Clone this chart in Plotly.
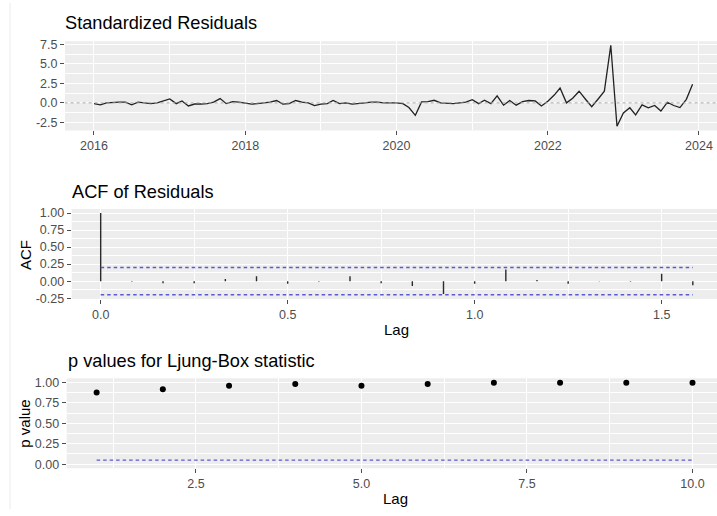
import pandas as pd
import plotly.graph_objects as go

# ---- data -------------------------------------------------------------
months = pd.date_range("2016-01-01", periods=96, freq="MS")

std_resid = [
    -0.10, -0.25, 0.00, 0.10, 0.10, 0.10, -0.25, 0.10, 0.00, -0.10, 0.00, 0.20,   # 2016
    0.50, -0.10, 0.25, -0.40, -0.15, -0.15, -0.10, 0.10, 0.55, -0.10, 0.15, 0.10,  # 2017
    0.00, -0.15, -0.10, 0.00, 0.10, 0.30, -0.15, -0.10, 0.30, 0.10, 0.00, -0.35,   # 2018
    -0.15, -0.10, 0.30, -0.10, 0.00, -0.15, -0.10, 0.00, 0.10, 0.10, 0.00, 0.00,   # 2019
    0.00, -0.10, -0.60, -1.60, 0.13, 0.17, 0.33, 0.00, -0.10, -0.10, 0.00, 0.10,   # 2020
    0.40, -0.10, 0.35, -0.10, 0.90, -0.30, 0.30, -0.30, 0.15, 0.30, 0.25, -0.40,   # 2021
    0.20, 1.00, 1.90, 0.00, 0.60, 1.50, 0.50, -0.50, 0.50, 1.50, 7.40, -3.00,      # 2022
    -1.30, -0.63, -1.55, -0.25, -0.65, -0.34, -1.05, 0.08, -0.34, -0.60, 0.45, 2.40,  # 2023
]

acf_lag_months = list(range(20))
acf_values = [1.00, -0.01, -0.03, -0.03, 0.03, 0.07, -0.04, -0.01, 0.07, -0.03,
              -0.07, -0.19, -0.04, 0.17, 0.015, -0.04, -0.005, -0.01, 0.11, -0.06]
acf_bound = 0.2

lb_lags = [1, 2, 3, 4, 5, 6, 7, 8, 9, 10]
lb_pvalues = [0.877, 0.917, 0.960, 0.980, 0.960, 0.980, 0.996, 0.996, 0.996, 0.996]
lb_level = 0.05

# ---- styling ----------------------------------------------------------
W, H = 717, 516
FONT = "Liberation Sans, Arial, sans-serif"
TICK_COLOR = "#4D4D4D"
PANEL_BG = "#EDEDED"
BLUE = "#5A5AD0"
LINE = "#222222"


def px_x(p):
    return p / W


def px_y(p):
    return 1 - p / H


acf_lags = [m / 12 for m in acf_lag_months]

fig = go.Figure()

# standardized residuals
fig.add_trace(go.Scatter(
    x=months, y=std_resid, mode="lines",
    line=dict(color=LINE, width=1.3), xaxis="x", yaxis="y", hoverinfo="x+y",
))
fig.add_trace(go.Scatter(
    x=[months[0] - pd.Timedelta(days=200), months[-1] + pd.Timedelta(days=200)],
    y=[0, 0], mode="lines",
    line=dict(color="#A8A8A8", width=1, dash="dot"), xaxis="x", yaxis="y",
))

# ACF segments
seg_x, seg_y = [], []
for lag, v in zip(acf_lags, acf_values):
    seg_x += [lag, lag, None]
    seg_y += [0, v, None]
fig.add_trace(go.Scatter(
    x=seg_x, y=seg_y, mode="lines",
    line=dict(color="#2A2A2A", width=1.4), xaxis="x2", yaxis="y2",
))
for b in (acf_bound, -acf_bound):
    fig.add_trace(go.Scatter(
        x=[acf_lags[0], acf_lags[-1]], y=[b, b], mode="lines",
        line=dict(color=BLUE, width=1.4, dash="3.5px,3px"), xaxis="x2", yaxis="y2",
    ))

# Ljung-Box p-values
fig.add_trace(go.Scatter(
    x=lb_lags, y=lb_pvalues, mode="markers",
    marker=dict(color="black", size=6), xaxis="x3", yaxis="y3",
))
fig.add_trace(go.Scatter(
    x=[lb_lags[0], lb_lags[-1]], y=[lb_level, lb_level], mode="lines",
    line=dict(color=BLUE, width=1.4, dash="3.5px,3px"), xaxis="x3", yaxis="y3",
))

common = dict(
    showgrid=True, gridcolor="white", gridwidth=1.2,
    zeroline=False, showline=False,
    ticks="outside", ticklen=4, tickwidth=1, tickcolor="#4D4D4D",
    tickfont=dict(family=FONT, size=12.5, color=TICK_COLOR),
    fixedrange=True,
)
minor = dict(showgrid=True, gridcolor="white", gridwidth=0.6, ticks="")

year_ticks = [pd.Timestamp(f"{y}-01-01") for y in range(2016, 2025, 2)]
year_minor = [pd.Timestamp(f"{y}-01-01") for y in range(2015, 2026, 2)]

fig.update_layout(
    width=W, height=H,
    margin=dict(l=0, r=0, t=0, b=0),
    paper_bgcolor="white", plot_bgcolor=PANEL_BG,
    showlegend=False,
    font=dict(family=FONT),
    xaxis=dict(common, domain=[px_x(65), 1], anchor="y", type="date",
               range=["2015-08-14", "2024-03-28"],
               tickvals=year_ticks, ticktext=[str(t.year) for t in year_ticks],
               minor=dict(minor, tickvals=year_minor)),
    yaxis=dict(common, domain=[px_y(130), px_y(39)], anchor="x",
               range=[-3.55, 7.92], tickvals=[-2.5, 0, 2.5, 5, 7.5],
               ticktext=["-2.5", "0.0", "2.5", "5.0", "7.5"],
               minor=dict(minor, tickvals=[-3.75, -1.25, 1.25, 3.75, 6.25])),
    xaxis2=dict(common, domain=[px_x(71.7), 1], anchor="y2",
                range=[-0.0775, 1.648], tickvals=[0, 0.5, 1.0, 1.5],
                ticktext=["0.0", "0.5", "1.0", "1.5"],
                minor=dict(minor, tickvals=[0.25, 0.75, 1.25])),
    yaxis2=dict(common, domain=[px_y(301.7), px_y(210)], anchor="x2",
                range=[-0.26, 1.06], tickvals=[-0.25, 0, 0.25, 0.5, 0.75, 1.0],
                ticktext=["-0.25", "0.00", "0.25", "0.50", "0.75", "1.00"],
                minor=dict(minor, tickvals=[-0.125, 0.125, 0.375, 0.625, 0.875])),
    xaxis3=dict(common, domain=[px_x(66.7), 1], anchor="y3",
                range=[0.548, 10.37], tickvals=[2.5, 5, 7.5, 10],
                ticktext=["2.5", "5.0", "7.5", "10.0"],
                minor=dict(minor, tickvals=[1.25, 3.75, 6.25, 8.75])),
    yaxis3=dict(common, domain=[px_y(474.5), px_y(382.7)], anchor="x3",
                range=[-0.05, 1.05], tickvals=[0, 0.25, 0.5, 0.75, 1.0],
                ticktext=["0.00", "0.25", "0.50", "0.75", "1.00"],
                minor=dict(minor, tickvals=[0.125, 0.375, 0.625, 0.875])),
)

def text(x, y, s, size, angle=0, xanchor="left", color="black"):
    fig.add_annotation(
        x=px_x(x), y=px_y(y), xref="paper", yref="paper", text=s,
        showarrow=False, xanchor=xanchor, yanchor="middle", textangle=angle,
        font=dict(family=FONT, size=size, color=color),
    )

# panel titles
text(63, 20.5, "Standardized Residuals", 18.2)
text(69.5, 193, "ACF of Residuals", 18.2)
text(66, 365, "p values for Ljung-Box statistic", 18.2)

# axis titles
text(397, 332.5, "Lag", 15, xanchor="center")
text(395, 505, "Lag", 15, xanchor="center")
text(25, 257, "ACF", 15, angle=-90, xanchor="center")
text(25, 429, "p value", 15, angle=-90, xanchor="center")

# faint left border line
fig.add_shape(type="line", xref="paper", yref="paper",
              x0=px_x(10), x1=px_x(10), y0=0, y1=1,
              line=dict(color="#EBEBEB", width=1))

fig.write_html("out.html")
